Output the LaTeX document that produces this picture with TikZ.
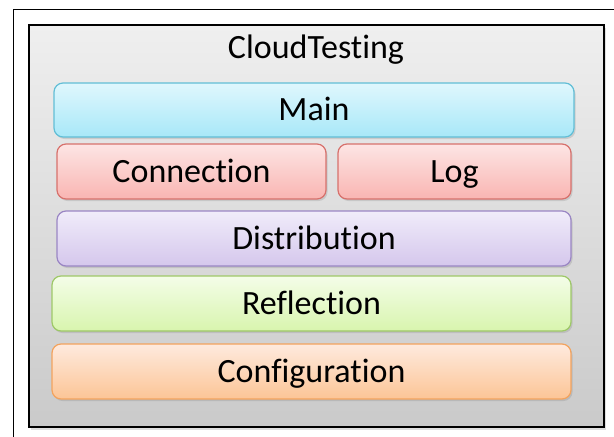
\documentclass[tikz,border=0pt]{standalone}
\usepackage{fontspec}
\setmainfont{Carlito}[Ligatures=NoCommon]
\usetikzlibrary{shadows}

\definecolor{mainTop}{HTML}{DFF7FD}
\definecolor{mainBot}{HTML}{A8E8F8}
\definecolor{mainLine}{HTML}{62BED6}
\definecolor{redTop}{HTML}{FDE5E4}
\definecolor{redBot}{HTML}{F9B5B2}
\definecolor{redLine}{HTML}{D7716C}
\definecolor{purTop}{HTML}{F0ECFA}
\definecolor{purBot}{HTML}{D5C7EC}
\definecolor{purLine}{HTML}{9A86C4}
\definecolor{grnTop}{HTML}{F4FDE8}
\definecolor{grnBot}{HTML}{D8F5AE}
\definecolor{grnLine}{HTML}{9EC868}
\definecolor{orgTop}{HTML}{FEEADE}
\definecolor{orgBot}{HTML}{FCC596}
\definecolor{orgLine}{HTML}{F3A35E}
\definecolor{frameTop}{HTML}{EFEFEF}
\definecolor{frameBot}{HTML}{CACACA}

\tikzset{
  layer/.style n args={3}{
    rectangle, rounded corners=9pt, line width=1.2pt,
    draw=#3, top color=#1, bottom color=#2,
    drop shadow={shadow xshift=1.5pt, shadow yshift=-2pt, opacity=0.25},
    font=\fontsize{34}{38}\selectfont,
    text height=21.5pt, text depth=0pt, inner sep=0pt
  },
  container/.style={
    rectangle, line width=1.6pt, draw=black,
    top color=frameTop, bottom color=frameBot,
    drop shadow={shadow xshift=2pt, shadow yshift=-3pt, opacity=0.25}
  }
}

\begin{document}
\begin{tikzpicture}[x=1pt, y=-1pt]
  \useasboundingbox (0,0) rectangle (614,437);
  \fill[white] (0,0) rectangle (614,437);

  % page frame
  \coordinate (fa) at (13,437);
  \coordinate (fb) at (13,9);
  \coordinate (fc) at (614,9);
  \draw[line width=0.9pt] (fa) -- (fb) -- (fc);

  % outer container
  \node[container, minimum width=575pt, minimum height=402pt] (cloud) at (316.5,226) {};
  \node[font=\fontsize{34}{38}\selectfont, anchor=base, inner sep=0pt] (title) at (316,58) {CloudTesting};

  % layers
  \node[layer={mainTop}{mainBot}{mainLine}, minimum width=520pt, minimum height=54pt] (main) at (314,110) {Main};
  \node[layer={redTop}{redBot}{redLine}, minimum width=269pt, minimum height=55pt] (conn) at (191.5,171.5) {Connection};
  \node[layer={redTop}{redBot}{redLine}, minimum width=233pt, minimum height=55pt] (log) at (454.5,171.5) {Log};
  \node[layer={purTop}{purBot}{purLine}, minimum width=514pt, minimum height=55pt] (dist) at (314,238.5) {Distribution};
  \node[layer={grnTop}{grnBot}{grnLine}, minimum width=519pt, minimum height=55pt] (refl) at (311.5,303.5) {Reflection};
  \node[layer={orgTop}{orgBot}{orgLine}, minimum width=519pt, minimum height=55pt] (conf) at (311.5,371.5) {Configuration};
\end{tikzpicture}
\end{document}
